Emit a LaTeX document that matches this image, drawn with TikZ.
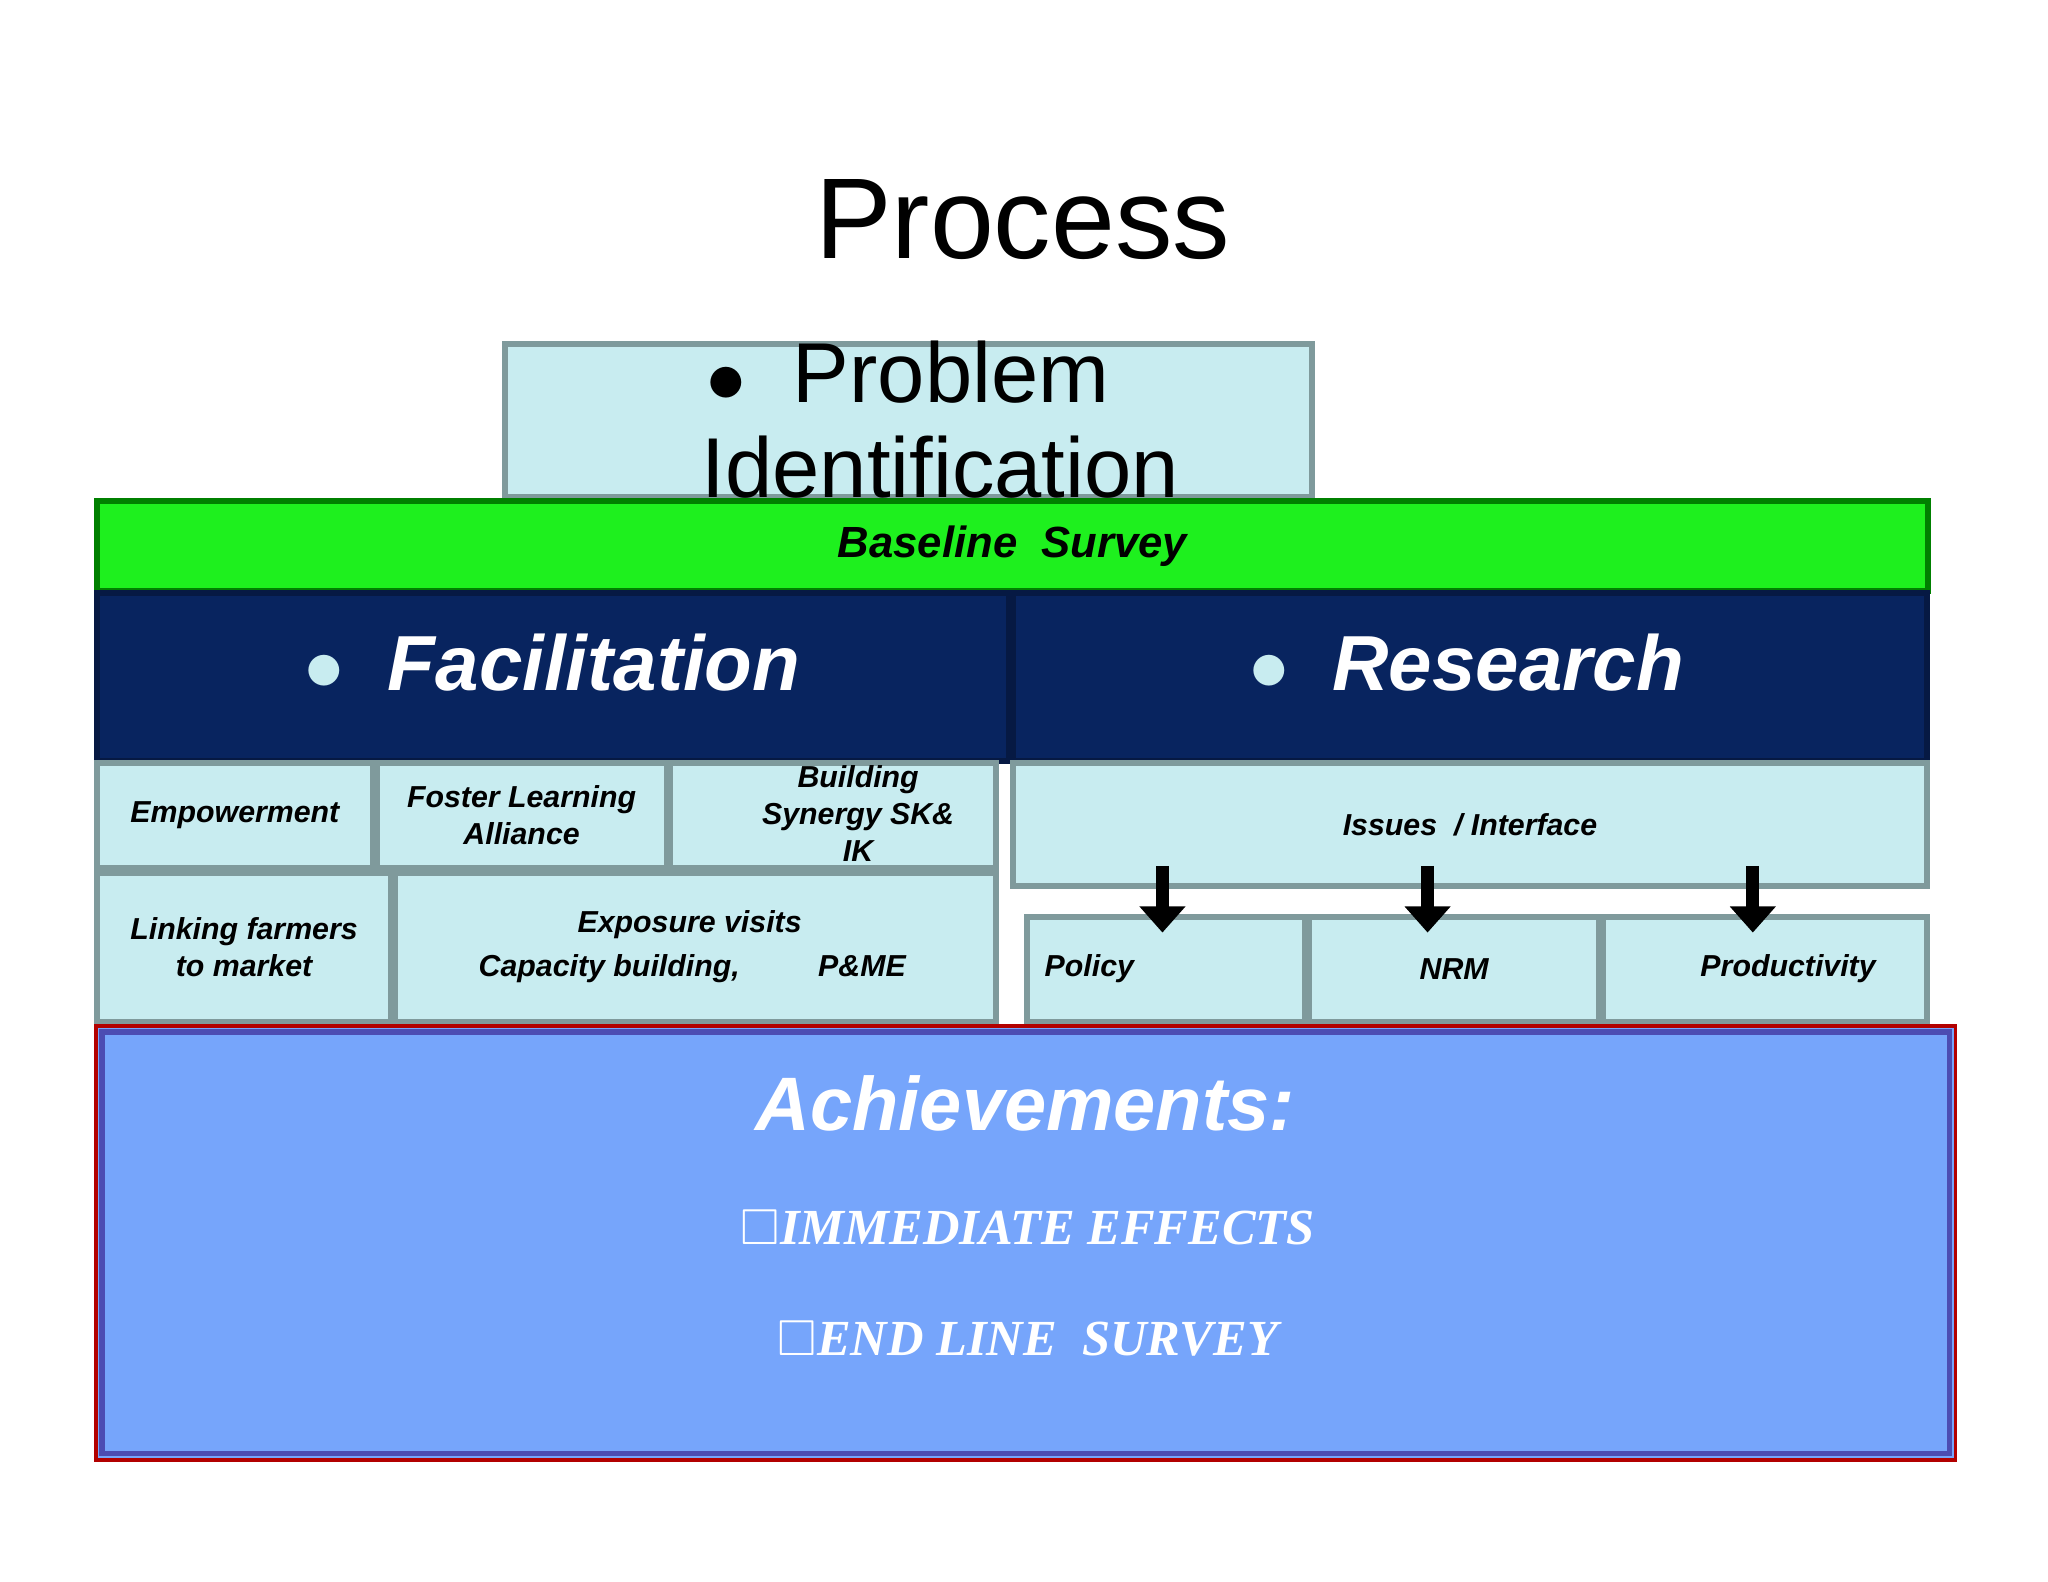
\documentclass[tikz,border=0pt]{standalone}
\usepackage{amssymb}
\usepackage{fontspec}
\setmainfont{Liberation Sans}
\newfontfamily\serifbf{Liberation Serif}
\usetikzlibrary{positioning,arrows.meta,calc}
\definecolor{tilecyan}{HTML}{C8ECF0}
\definecolor{tileedge}{HTML}{7F9A9C}
\definecolor{navy}{HTML}{08245F}
\definecolor{grass}{HTML}{1EF01E}
\definecolor{achblue}{HTML}{76A5FB}
\begin{document}
\begin{tikzpicture}
[x=0.01cm,y=-0.01cm,
 tile/.style={draw=tileedge,fill=tilecyan,line width=1.3pt,anchor=north west,
   inner sep=2pt,font=\bfseries\itshape\fontsize{6.6}{8}\selectfont,align=center},
 tiletxt/.style={font=\bfseries\itshape\fontsize{6.6}{8}\selectfont,align=center},
 head/.style={draw=navy!70!black,fill=navy,line width=1.3pt,anchor=north west},
 headtxt/.style={text=white,font=\bfseries\itshape\fontsize{17}{20}\selectfont},
 down/.style={line width=0.1cm,-{Triangle[width=0.34cm,length=0.2cm]}}]
\useasboundingbox (0,0) rectangle (1568,1211);
\node (title) at (783,168) {\fontsize{25}{28}\selectfont Process};
% top box
\node[tile,minimum width=6.18cm,minimum height=1.17cm] (problem) at (384,261) {};
\node[font=\fontsize{18.5}{22}\selectfont] (probtxt) at (695,285) {$\bullet$\ \ Problem};
\node[font=\fontsize{18.5}{22}\selectfont] (identtxt) at (720,358) {Identification};
\node[draw=green!50!black,fill=grass,line width=1.3pt,anchor=north west,
  minimum width=14.01cm,minimum height=0.69cm] (baseline) at (72,381) {};
\node[font=\bfseries\itshape\fontsize{9.5}{11}\selectfont] at (baseline.center) {Baseline\ \ Survey};
% two columns
\node[head,minimum width=6.98cm,minimum height=1.28cm] (facil) at (72,452) {};
\node[headtxt] at (423,507) {\textcolor{tilecyan}{$\bullet$}\ \ Facilitation};
\node[head,minimum width=7.00cm,minimum height=1.28cm] (research) at (773,452) {};
\node[headtxt] at (1123,507) {\textcolor{tilecyan}{$\bullet$}\ \ Research};
% facilitation tiles
\node[tile,minimum width=2.11cm,minimum height=0.80cm] (empower) at (72,582) {Empowerment};
\node[tile,minimum width=2.22cm,minimum height=0.80cm] (foster) at (286,582) {Foster Learning\\Alliance};
\node[tile,minimum width=2.49cm,minimum height=0.80cm] (synergy) at (511,582) {};
\node[tiletxt] at (657,623) {Building\\Synergy SK\&\\IK};
\node[tile,minimum width=2.25cm,minimum height=1.14cm] (linking) at (72,666) {Linking farmers\\to market};
\node[tile,minimum width=4.60cm,minimum height=1.14cm] (exposure) at (300,666) {};
\node[tiletxt] at (528,708) {Exposure visits};
\node[tiletxt] at (530,742) {Capacity building,\hspace{0.6cm}P\&ME};
% research tiles
\node[tile,minimum width=7.00cm,minimum height=0.94cm] (issues) at (773,582) {Issues\ \ / Interface};
\node[tile,minimum width=2.13cm,minimum height=0.80cm] (policy) at (784,700) {};
\node[tiletxt] at (834,742) {Policy};
\node[tile,minimum width=2.22cm,minimum height=0.80cm] (nrm) at (1000,700) {NRM};
\node[tile,minimum width=2.48cm,minimum height=0.80cm] (product) at (1225,700) {};
\node[tiletxt] at (1369,742) {Productivity};
\coordinate (a1) at (890,663); \coordinate (b1) at (890,714);
\coordinate (a2) at (1093,663); \coordinate (b2) at (1093,714);
\coordinate (a3) at (1342,663); \coordinate (b3) at (1342,714);
\foreach \i in {1,2,3} \draw[down] (a\i) -- (b\i);
% achievements
\node[draw=red!70!black,fill=achblue,line width=0.8pt,anchor=north west,
  minimum width=14.23cm,minimum height=3.32cm] (achieve) at (72,784) {};
\draw[blue!40!gray,line width=1.2pt] ($(achieve.north west)+(6,6)$) rectangle ($(achieve.south east)+(-6,-6)$);
\node[text=white,font=\bfseries\itshape\fontsize{16.5}{19}\selectfont] (achtxt) at (785,845) {Achievements:};
\node[text=white,font=\serifbf\bfseries\itshape\fontsize{11}{13}\selectfont] (immed) at (787,940) {$\square$IMMEDIATE EFFECTS};
\node[text=white,font=\serifbf\bfseries\itshape\fontsize{11}{13}\selectfont] (endline) at (787,1025) {$\square$END LINE\ \ SURVEY};
\end{tikzpicture}
\end{document}
